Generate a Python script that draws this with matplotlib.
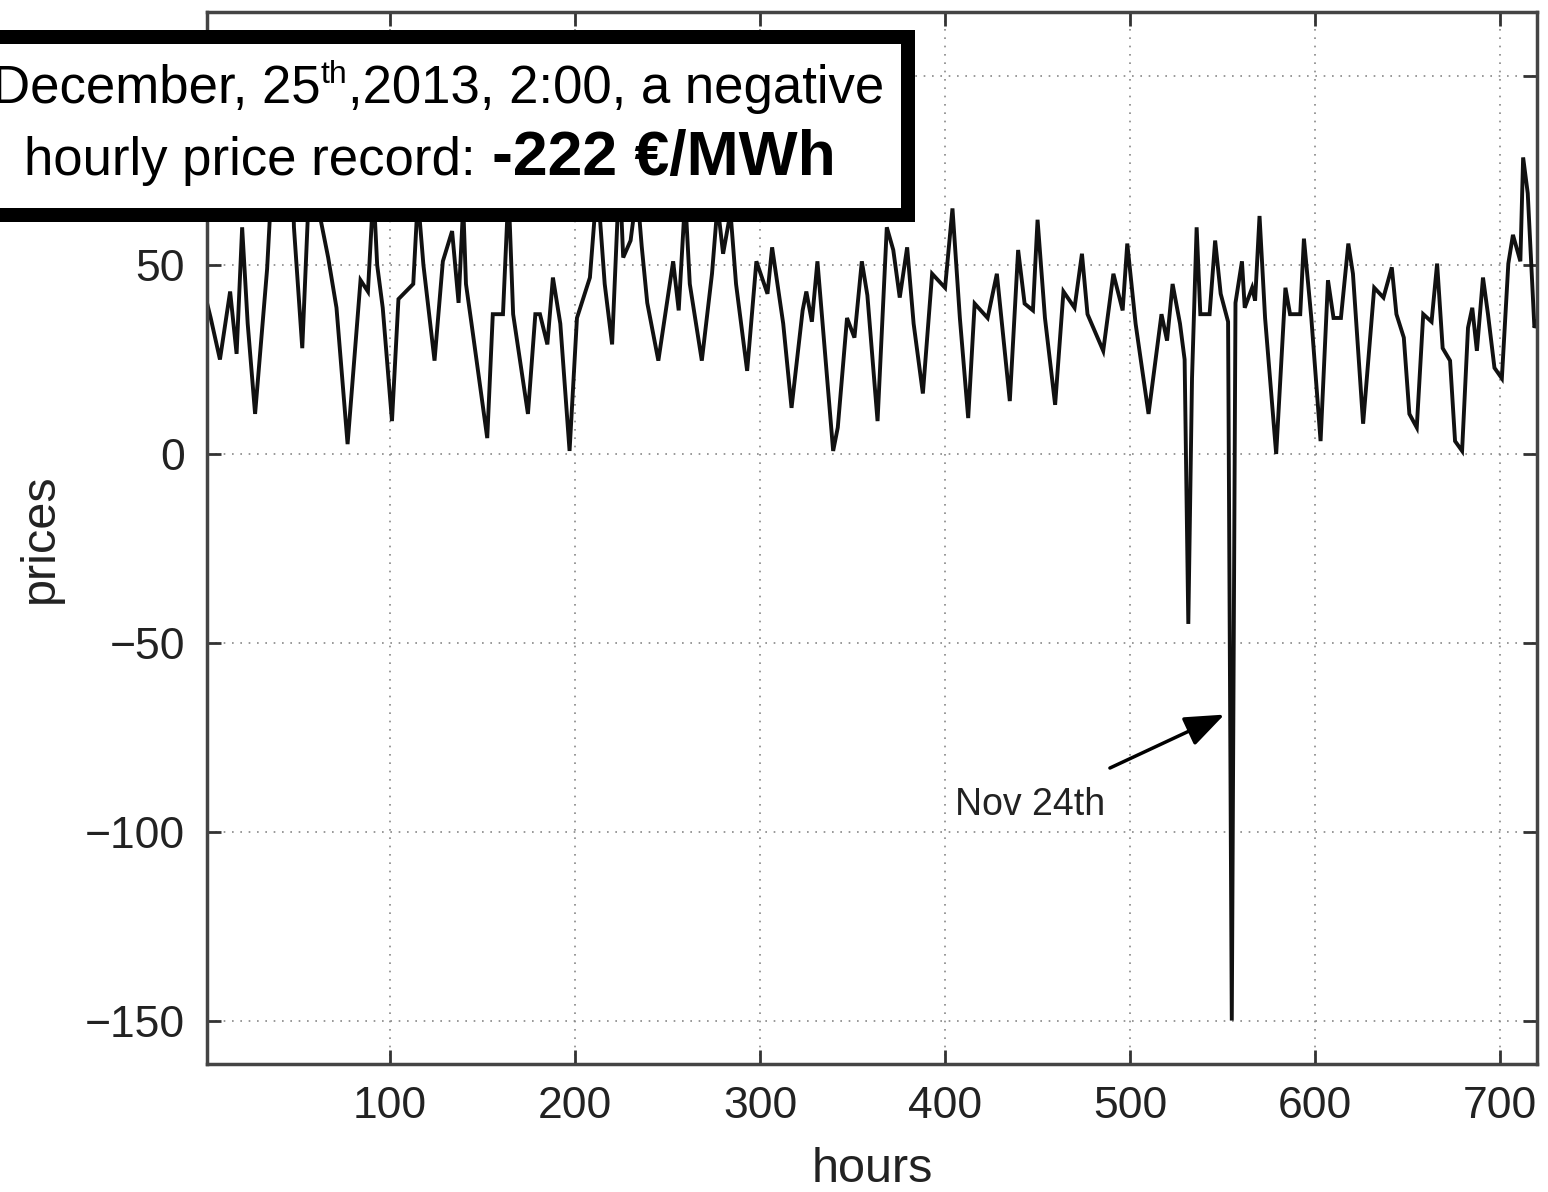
import matplotlib
matplotlib.use("Agg")
import matplotlib.pyplot as plt
from matplotlib.patches import Rectangle

# Hourly electricity prices over one month (hour index, price)
hours = [1, 3, 8, 13.5, 17, 20, 23, 27, 33.5, 36, 38, 41, 45, 48, 52.5, 57, 60,
         66.5, 71, 77, 84, 88, 91, 93, 96, 101, 104.5, 112.5, 115, 118, 124,
         128.5, 133.5, 137, 139.5, 141, 144, 152.5, 155.5, 161, 164, 166.5,
         174.5, 178.5, 181, 185, 188, 192, 197, 201, 208, 212, 216, 220, 224,
         226, 230, 233.5, 236, 239, 245, 253, 256, 259.5, 262, 268.5, 274, 277,
         280, 284, 287, 293, 298, 304, 306.5, 312.5, 317, 323, 325, 328, 331,
         339.5, 342, 347, 351, 355, 358, 363.5, 368.5, 372, 375.5, 379.5, 383,
         388, 393, 400, 404, 408, 412.5, 416, 423, 428, 435, 439.5, 443, 447.5,
         450, 454, 459.5, 464, 470, 474, 477, 485.5, 491, 496, 498.5, 503, 510,
         517, 520, 523, 527, 529.5, 531.5, 533.5, 536, 538, 543, 546, 549, 553,
         555, 557, 560.5, 562, 566, 567.6, 570, 573, 579, 584, 586.5, 592, 594,
         598, 603, 607, 610, 614, 618, 620.5, 626, 632, 637, 641.5, 644, 648,
         651, 655, 658.5, 663, 666, 669, 673, 675.7, 679.5, 682.7, 685, 687.5,
         690.8, 693.5, 697, 701, 704.5, 707, 711, 712.5, 715, 718.6, 720]
prices = [40, 36, 25, 43, 26.5, 60, 34.5, 10.6, 49, 72, 62, 66, 112, 60, 28, 80,
          68, 52, 38.7, 2.6, 46, 43, 70, 50, 38.7, 8.7, 41, 45, 68, 50, 24.7,
          51, 59, 40, 66, 45, 34.5, 4.2, 37, 37, 70, 37, 10.6, 37, 37, 29,
          46.7, 34.5, 0.8, 36, 46.7, 72, 45, 29, 75, 52, 56.5, 70, 55, 40,
          24.7, 51, 38, 68, 45, 24.7, 47.7, 66, 53, 64, 45, 22, 51, 42.4, 54.7,
          34.5, 12.2, 38, 43, 35, 51, 0.8, 7, 36, 30.8, 51, 42, 8.7, 60, 54,
          41.4, 54.7, 34.5, 16, 47.7, 44, 65, 36, 9.5, 39.8, 36, 47.7, 14, 54,
          39.8, 38, 62, 36, 13, 43, 38.7, 53, 37, 27.3, 47.7, 38, 55.7, 34.5,
          10.6, 37, 30, 45, 34.5, 25, -45, 20, 60, 37, 37, 56.5, 42.4, 35,
          -150, 40, 51, 38.7, 44, 40.6, 63, 36, 0, 44, 37, 37, 57, 36, 3.4, 46,
          36, 36, 55.7, 47.7, 8, 44, 41.4, 49.4, 37, 30.8, 10.6, 7, 37, 35,
          50.4, 28, 24.7, 3.4, 0.8, 33.4, 38.7, 27.3, 46.7, 37, 22.8, 20, 50.4,
          58, 51, 78.5, 69, 33.4, 35]

x_ticks = [100, 200, 300, 400, 500, 600, 700]
y_ticks = [-150, -100, -50, 0, 50, 100]
# the 100 level sits under the caption frame, so its label is left blank
y_tick_labels = ["\u2212150", "\u2212100", "\u221250", "0", "50", ""]

W, H, DPI = 1548, 1192, 100
fig = plt.figure(figsize=(W / DPI, H / DPI), dpi=DPI)
ax = fig.add_axes([207 / W, 1 - 1064 / H, (1537 - 207) / W, (1064 - 12) / H])

sans = "Liberation Sans"

ax.plot(hours, prices, color="#111111", lw=2.8, solid_joinstyle="miter")
ax.set_xlim(1, 720)
ax.set_ylim(-161.5, 117)
ax.set_xticks(x_ticks)
ax.set_yticks(y_ticks)
ax.set_yticklabels(y_tick_labels)
ax.grid(True, linestyle=(0, (1, 4)), color="#888888", lw=1.2)
ax.tick_params(direction="in", length=10, width=2, top=True, right=True,
               labelsize=32, pad=16, colors="#333333", labelcolor="#222222")
for lab in ax.get_xticklabels() + ax.get_yticklabels():
    lab.set_family(sans)
for sp in ax.spines.values():
    sp.set_color("#444444")
    sp.set_linewidth(2.5)

ax.set_xlabel("hours", fontsize=35, family=sans, color="#222222", labelpad=14)
ax.set_ylabel("prices", fontsize=35, family=sans, color="#222222", labelpad=16)

ax.annotate("Nov 24th", xy=(551, -69), xytext=(446, -93),
            fontsize=27, family=sans, color="#222222", ha="center", va="center",
            arrowprops=dict(arrowstyle="-|>,head_length=0.9,head_width=0.35",
                            color="black", lw=2.5, shrinkA=28, shrinkB=0))

# Framed caption in the upper-left corner
bw = 14
rect = Rectangle((-30 / W, 1 - (222 - bw / 2) / H), (915 - bw / 2 + 30) / W,
                 (222 - 30 - bw) / H, transform=fig.transFigure,
                 facecolor="white", edgecolor="black", lw=bw * 72 / DPI,
                 zorder=10, clip_on=False)
fig.patches.append(rect)

renderer = fig.canvas.get_renderer()


def lay_out(pieces, cx, base_y):
    objs = []
    for txt, kw, dy, gap in pieces:
        t = fig.text(0, 0, txt, transform=fig.transFigure, va="baseline",
                     ha="left", zorder=11, **kw)
        objs.append((t, dy, gap))
    widths = [t.get_window_extent(renderer).width for t, _, _ in objs]
    total = sum(widths) + sum(g for _, _, g in objs)
    x = cx - total / 2
    for (t, dy, gap), w in zip(objs, widths):
        x += gap
        t.set_position((x / W, 1 - (base_y - dy) / H))
        x += w


f1 = dict(family=sans, fontsize=38, color="black")
sup = dict(family=sans, fontsize=23, color="black")
bold = dict(family=sans, fontsize=45, color="black", weight="bold")
lay_out([("December, 25", f1, 0, 0), ("th", sup, 20, 0),
         (",2013, 2:00, a negative", f1, 0, 0)], 438, 103)
lay_out([("hourly price record:", f1, 0, 0), ("-222 €/MWh", bold, 0, 16)],
        430, 175)

fig.savefig("out.png", dpi=DPI)
